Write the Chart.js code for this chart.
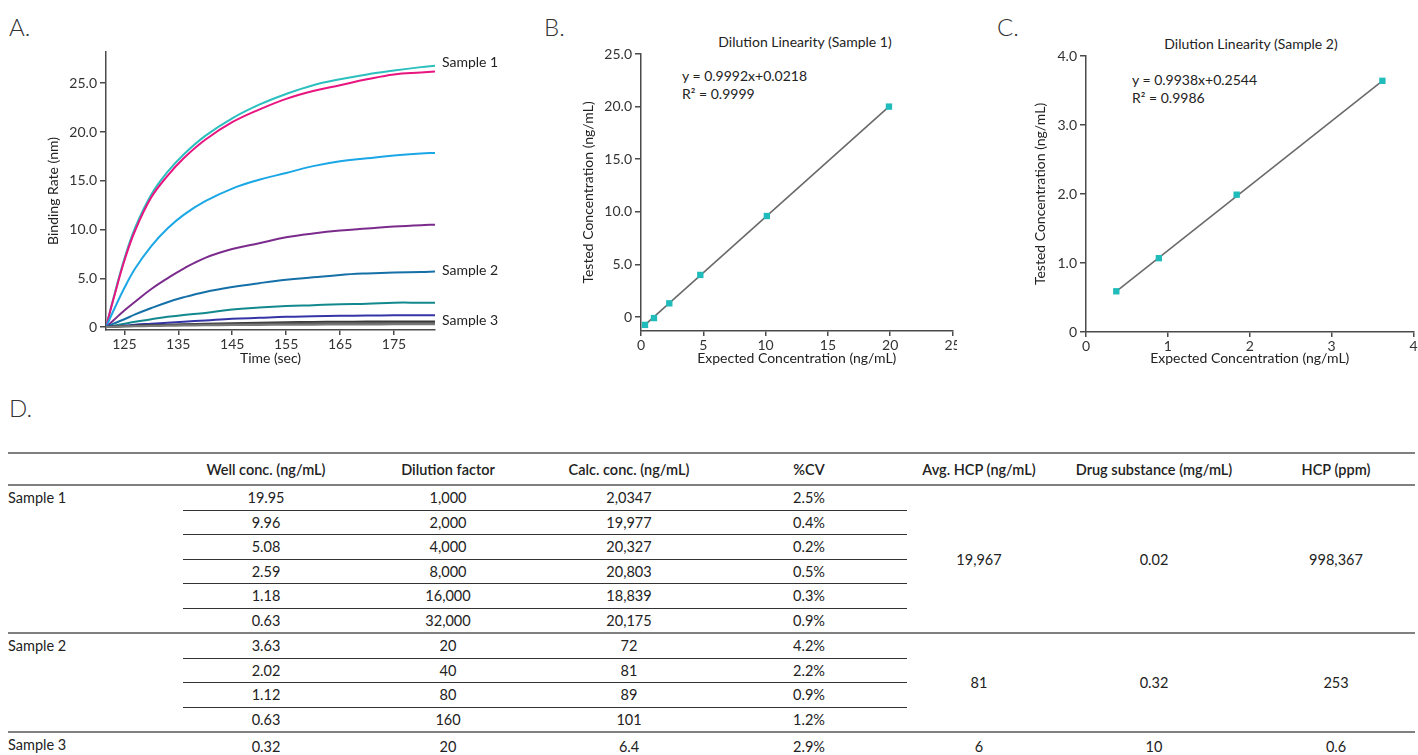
<!DOCTYPE html>
<html>
<head>
<meta charset="utf-8">
<script src="https://cdn.jsdelivr.net/npm/chart.js@4.4.1/dist/chart.umd.min.js"></script>
<style>
  body { margin: 0; background: #fff; font-family: Lato, "Noto Sans", sans-serif; color: #222; }
  .wrap { position: relative; width: 1418px; height: 755px; overflow: hidden; }
  .cv { position: absolute; }
  .letter { position: absolute; font-size: 24px; font-weight: 300; color: #333; line-height: 1; }
  .txt { position: absolute; font-size: 14px; color: #222; line-height: 1; white-space: nowrap; }
  .ctitle { transform: translateX(-50%); }
  table { position: absolute; left: 8px; top: 452px; border-collapse: collapse; table-layout: fixed; font-size: 14.5px; }
  th, td { text-align: center; padding: 0; height: 23.5px; font-weight: 400; white-space: nowrap; }
  thead th { font-weight: 600; height: 30px; border-top: 2px solid #808080; border-bottom: 2px solid #808080; }
  td.name { text-align: left; vertical-align: top; padding-top: 3px; }
  td.inner { border-top: 1px solid #333; }
  tr.first td { border-top: 2px solid #808080; }
</style>
</head>
<body>
<div class="wrap">
  <div class="letter" style="left:9px;top:15px">A.</div>
  <div class="letter" style="left:544px;top:15px">B.</div>
  <div class="letter" style="left:997px;top:15px">C.</div>
  <div class="letter" style="left:9px;top:396px">D.</div>

  <div class="txt ctitle" style="left:805px;top:35px">Dilution Linearity (Sample 1)</div>
  <div class="txt" style="left:682px;top:69px">y = 0.9992x+0.0218</div>
  <div class="txt" style="left:682px;top:87px">R² = 0.9999</div>

  <div class="txt ctitle" style="left:1251px;top:37px">Dilution Linearity (Sample 2)</div>
  <div class="txt" style="left:1132px;top:73px">y = 0.9938x+0.2544</div>
  <div class="txt" style="left:1132px;top:91px">R² = 0.9986</div>

  <canvas id="chartA" class="cv" style="left:40px;top:40px"></canvas>
  <canvas id="chartB" class="cv" style="left:560px;top:40px"></canvas>
  <canvas id="chartC" class="cv" style="left:1000px;top:40px"></canvas>

  <table id="tbl"></table>
</div>

<script>
// ===== DATA: A. binding curves =====
const timeSec = [121.6, 123, 125, 127, 130, 133, 136, 140, 145, 150, 155, 160, 165, 170, 175, 180, 182.6];
const timeTicks = [125, 135, 145, 155, 165, 175];
const bindingTicks = [0, 5, 10, 15, 20, 25];
const curveCyan   = [0, 3.0, 7.0, 10.2, 13.6, 15.9, 17.7, 19.6, 21.4, 22.8, 23.9, 24.8, 25.4, 25.9, 26.3, 26.65, 26.8];
const curvePink   = [0, 2.9, 6.8, 9.9, 13.3, 15.5, 17.3, 19.2, 21.0, 22.3, 23.4, 24.2, 24.8, 25.4, 25.9, 26.1, 26.2];
const curveSky    = [0, 1.7, 4.0, 6.0, 8.3, 10.1, 11.5, 12.9, 14.2, 15.1, 15.8, 16.5, 17.0, 17.3, 17.6, 17.8, 17.85];
const curvePurple = [0, 0.7, 1.7, 2.6, 3.9, 5.0, 6.0, 7.1, 8.0, 8.6, 9.2, 9.6, 9.9, 10.1, 10.3, 10.45, 10.5];
const curveBlue   = [0, 0.35, 0.8, 1.3, 1.95, 2.55, 3.05, 3.6, 4.1, 4.5, 4.85, 5.1, 5.35, 5.5, 5.6, 5.65, 5.7];
const curveTeal   = [0, 0.15, 0.35, 0.55, 0.8, 1.05, 1.25, 1.45, 1.8, 2.0, 2.15, 2.25, 2.35, 2.4, 2.5, 2.5, 2.5];
const curveViolet = [0, 0.08, 0.15, 0.25, 0.35, 0.45, 0.55, 0.68, 0.85, 0.95, 1.05, 1.1, 1.15, 1.18, 1.2, 1.2, 1.22];
const curveGray1  = [0, 0.05, 0.1, 0.15, 0.2, 0.25, 0.3, 0.35, 0.4, 0.45, 0.5, 0.52, 0.55, 0.56, 0.58, 0.58, 0.58];
const curveGray2  = [0, 0.04, 0.08, 0.12, 0.16, 0.2, 0.23, 0.27, 0.3, 0.33, 0.36, 0.38, 0.4, 0.41, 0.42, 0.42, 0.42];
const curveGray3  = [0, 0.03, 0.06, 0.08, 0.1, 0.13, 0.15, 0.18, 0.2, 0.22, 0.24, 0.25, 0.26, 0.27, 0.28, 0.28, 0.28];
const sampleLabels = ['Sample 1', 'Sample 2', 'Sample 3'];
const sampleLabelAt = [27.1, 5.8, 0.7];

// ===== DATA: B. dilution linearity sample 1 =====
const s1Expected = [0.32, 1.04, 2.27, 4.76, 10.1, 19.9];
const s1Tested   = [-0.75, -0.1, 1.3, 4.0, 9.6, 20.0];
const s1FitX = [0.32, 19.9];
const s1FitY = [-0.75, 20.0];
const s1TicksX = [0, 5, 10, 15, 20, 25];
const s1TicksY = [0, 5, 10, 15, 20, 25];

// ===== DATA: C. dilution linearity sample 2 =====
const s2Expected = [0.37, 0.89, 1.84, 3.62];
const s2Tested   = [0.59, 1.07, 1.99, 3.64];
const s2FitX = [0.37, 3.62];
const s2FitY = [0.59, 3.64];
const s2TicksX = [0, 1, 2, 3, 4];
const s2TicksY = [0, 1, 2, 3, 4];

// ===== DATA: D. table =====
const tableHeaders = ['', 'Well conc. (ng/mL)', 'Dilution factor', 'Calc. conc. (ng/mL)', '%CV', 'Avg. HCP (ng/mL)', 'Drug substance (mg/mL)', 'HCP (ppm)'];
const tableSamples = ['Sample 1', 'Sample 2', 'Sample 3'];
const wellConc   = [['19.95', '9.96', '5.08', '2.59', '1.18', '0.63'], ['3.63', '2.02', '1.12', '0.63'], ['0.32']];
const dilution   = [['1,000', '2,000', '4,000', '8,000', '16,000', '32,000'], ['20', '40', '80', '160'], ['20']];
const calcConc   = [['2,0347', '19,977', '20,327', '20,803', '18,839', '20,175'], ['72', '81', '89', '101'], ['6.4']];
const cvPct      = [['2.5%', '0.4%', '0.2%', '0.5%', '0.3%', '0.9%'], ['4.2%', '2.2%', '0.9%', '1.2%'], ['2.9%']];
const avgHcp     = ['19,967', '81', '6'];
const drugSub    = ['0.02', '0.32', '10'];
const hcpPpm     = ['998,367', '253', '0.6'];
const colWidths  = [175, 166, 198, 164, 196, 144, 206, 158];

// ===== SHARED STYLE =====
const FONT = 'Lato, "Noto Sans", sans-serif';
const AXIS = '#4a4a4a';
const tickFont = { family: FONT, size: 14 };
const titleFont = { family: FONT, size: 14 };

function sizeCanvas(id, w, h) {
  const c = document.getElementById(id);
  c.width = w; c.height = h;
  c.style.width = w + 'px'; c.style.height = h + 'px';
  return c.getContext('2d');
}
const pts = (xs, ys) => xs.map((x, i) => ({ x: x, y: ys[i] }));
const fixedTicks = list => scale => { scale.ticks = list.map(v => ({ value: v })); };
const oneDec = v => v === 0 ? '0' : v.toFixed(1);

function axisX(min, max, tickList, title, height, titlePad) {
  return {
    type: 'linear', min: min, max: max,
    afterBuildTicks: fixedTicks(tickList),
    // fixed height, and let the last tick label run off the edge like the original
    afterFit: s => { s.height = height; s.paddingLeft = 0; s.paddingRight = 0; },
    grid: { drawOnChartArea: false, color: AXIS, lineWidth: 1.5, tickLength: 5 },
    border: { color: AXIS, width: 1.5 },
    ticks: { font: tickFont, color: '#333', padding: 1, maxRotation: 0, autoSkip: false },
    title: { display: true, text: title, font: titleFont, color: '#222', padding: { top: 0, bottom: titlePad } }
  };
}
function axisY(min, max, tickList, title, width, titlePad, fmt) {
  return {
    type: 'linear', min: min, max: max,
    afterBuildTicks: fixedTicks(tickList),
    afterFit: s => { s.width = width; },
    grid: { drawOnChartArea: false, color: AXIS, lineWidth: 1.5, tickLength: 6 },
    border: { color: AXIS, width: 1.5 },
    ticks: { font: tickFont, color: '#333', padding: 3, callback: fmt, autoSkip: false },
    title: { display: true, text: title, font: titleFont, color: '#222', padding: { top: titlePad, bottom: 0 } }
  };
}
const baseOpts = {
  responsive: false, animation: false,
  plugins: { legend: { display: false }, tooltip: { enabled: false } }
};

// ===== CHART A: binding curves =====
const curveSet = [
  [curveGray3, '#7a7a7a'], [curveGray2, '#5a5a5a'], [curveGray1, '#3a3a3a'],
  [curveViolet, '#3434a6'], [curveTeal, '#13898e'], [curveBlue, '#1670a8'],
  [curvePurple, '#7b2b8c'], [curveSky, '#1ba7e6'], [curvePink, '#e8147f'], [curveCyan, '#2cbfbf']
];

const sampleTagPlugin = {
  id: 'sampleTags',
  afterDatasetsDraw(chart) {
    const { ctx, chartArea, scales } = chart;
    ctx.save();
    ctx.font = '14px ' + FONT;
    ctx.fillStyle = '#222';
    ctx.textBaseline = 'middle';
    sampleLabels.forEach((t, i) => {
      ctx.fillText(t, chartArea.right + 7, scales.y.getPixelForValue(sampleLabelAt[i]));
    });
    ctx.restore();
  }
};

new Chart(sizeCanvas('chartA', 460, 335), {
  type: 'line',
  data: {
    datasets: curveSet.map(([vals, col]) => ({
      data: pts(timeSec, vals),
      borderColor: col, borderWidth: 2, pointRadius: 0,
      tension: 0.4, fill: false
    }))
  },
  options: Object.assign({}, baseOpts, {
    layout: { padding: { top: 12, right: 65, bottom: 0, left: 0 } },
    scales: {
      x: axisX(121.6, 182.6, timeTicks, 'Time (sec)', 45, 8),
      y: axisY(-0.3, 28.2, bindingTicks, 'Binding Rate (nm)', 66, 5, oneDec)
    }
  }),
  plugins: [sampleTagPlugin]
});

// ===== CHARTS B & C: dilution linearity =====
function linearityChart(id, w, pad, xs, ys, fx, fy, xr, yr, tx, ty, yWidth, yPad, xHeight) {
  new Chart(sizeCanvas(id, w, 335), {
    type: 'scatter',
    data: {
      datasets: [
        {
          data: pts(xs, ys), pointStyle: 'rect', pointRadius: 4.5,
          backgroundColor: '#20bcbc', borderWidth: 0, showLine: false
        },
        {
          data: pts(fx, fy), showLine: true, borderColor: '#6a6a6a',
          borderWidth: 1.6, pointRadius: 0
        }
      ]
    },
    options: Object.assign({}, baseOpts, {
      clip: false,
      layout: { padding: pad },
      scales: {
        x: axisX(xr[0], xr[1], tx, 'Expected Concentration (ng/mL)', xHeight, 8),
        y: axisY(yr[0], yr[1], ty, 'Tested Concentration (ng/mL)', yWidth, yPad, oneDec)
      }
    })
  });
}

linearityChart('chartB', 397, { top: 14, right: 4, bottom: 0, left: 0 },
  s1Expected, s1Tested, s1FitX, s1FitY, [0, 25], [-1.33, 25], s1TicksX, s1TicksY, 81, 20, 44);
linearityChart('chartC', 418, { top: 16, right: 1, bottom: 0, left: 0 },
  s2Expected, s2Tested, s2FitX, s2FitY, [0, 4], [0, 4], s2TicksX, s2TicksY, 86, 32, 43);

// ===== TABLE D =====
const tbl = document.getElementById('tbl');
let html = '<colgroup>' + colWidths.map(w => `<col style="width:${w}px">`).join('') + '</colgroup>';
html += '<thead><tr>' + tableHeaders.map(h => `<th>${h}</th>`).join('') + '</tr></thead><tbody>';
tableSamples.forEach((name, s) => {
  const n = wellConc[s].length;
  for (let r = 0; r < n; r++) {
    const cls = r === 0 ? (s === 0 ? '' : ' class="first"') : '';
    const inner = r === 0 ? '' : ' class="inner"';
    html += `<tr${cls}>`;
    if (r === 0) html += `<td class="name" rowspan="${n}">${name}</td>`;
    html += `<td${inner}>${wellConc[s][r]}</td><td${inner}>${dilution[s][r]}</td><td${inner}>${calcConc[s][r]}</td><td${inner}>${cvPct[s][r]}</td>`;
    if (r === 0) html += `<td rowspan="${n}">${avgHcp[s]}</td><td rowspan="${n}">${drugSub[s]}</td><td rowspan="${n}">${hcpPpm[s]}</td>`;
    html += '</tr>';
  }
});
html += '</tbody>';
tbl.innerHTML = html;
</script>
</body>
</html>
